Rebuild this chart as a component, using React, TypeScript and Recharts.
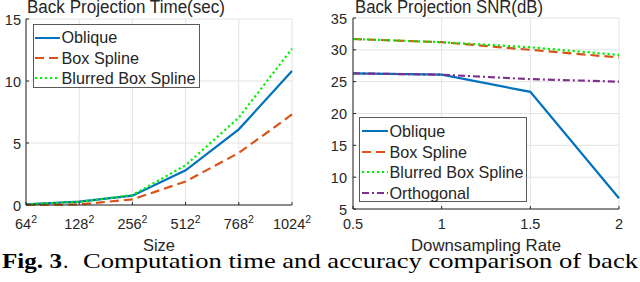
import React from 'react';
import { LineChart, Line, XAxis, YAxis, CartesianGrid, Legend } from 'recharts';

// ---- Data ----
const sizeLabels = ['64', '128', '256', '512', '768', '1024'];
const obliqueTime = [0.05, 0.27, 0.75, 2.8, 6.1, 10.8];
const boxSplineTime = [0.0, 0.05, 0.45, 1.9, 4.2, 7.3];
const blurredTime = [0.05, 0.25, 0.8, 3.2, 7.05, 12.6];
const timeTicks = [0, 5, 10, 15];

const downsampling = [0.5, 1, 1.5, 2];
const obliqueSnr = [26.3, 26.1, 23.4, 6.7];
const boxSplineSnr = [31.7, 31.2, 30.0, 28.8];
const blurredSnr = [31.7, 31.2, 30.4, 29.2];
const orthogonalSnr = [26.3, 26.1, 25.4, 25.0];
const snrTicks = [5, 10, 15, 20, 25, 30, 35];
const rateTicks = [0.5, 1, 1.5, 2];

const titleTime = 'Back Projection Time(sec)';
const titleSnr = 'Back Projection SNR(dB)';
const xLabelTime = 'Size';
const xLabelSnr = 'Downsampling Rate';
const captionBold = 'Fig. 3';
const captionDot = '.';
const captionRest = 'Computation time and accuracy comparison of back';

// ---- Styles ----
const FONT = '"Liberation Sans", Arial, Helvetica, sans-serif';
const SERIF = '"Liberation Serif", "Times New Roman", serif';
const TXT = '#262626';
const GRID = '#e3e3e3';
const TICK_LINE = { stroke: TXT, strokeWidth: 1 };

type SeriesDef = { key: string; name: string; color: string; dash?: string };
const S_OBLIQUE: SeriesDef = { key: 'oblique', name: 'Oblique', color: '#0072BD' };
const S_BOX: SeriesDef = { key: 'box', name: 'Box Spline', color: '#D95319', dash: '9 5' };
const S_BLUR: SeriesDef = { key: 'blur', name: 'Blurred Box Spline', color: '#00F000', dash: '2.2 2.8' };
const S_ORTH: SeriesDef = { key: 'orth', name: 'Orthogonal', color: '#7E2F8E', dash: '7 3 2 3' };

const timeData = sizeLabels.map((s, i) => ({
  size: s,
  oblique: obliqueTime[i],
  box: boxSplineTime[i],
  blur: blurredTime[i],
}));

const snrData = downsampling.map((d, i) => ({
  rate: d,
  oblique: obliqueSnr[i],
  box: boxSplineSnr[i],
  blur: blurredSnr[i],
  orth: orthogonalSnr[i],
}));

const SizeTick = (props: any) => {
  const { x, y, payload } = props;
  return (
    <text x={x} y={y + 24} textAnchor="middle" fill={TXT} fontFamily={FONT} fontSize={14.5}>
      <tspan>{payload.value}</tspan>
      <tspan dy={-6} fontSize={10.5}>2</tspan>
    </text>
  );
};

const XNumTick = (props: any) => {
  const { x, y, payload } = props;
  return (
    <text x={x} y={y + 20} textAnchor="middle" fill={TXT} fontFamily={FONT} fontSize={14.5}>
      {payload.value}
    </text>
  );
};

const YTick = (props: any) => {
  const { x, y, payload } = props;
  return (
    <text x={x} y={y + 5.5} textAnchor="end" fill={TXT} fontFamily={FONT} fontSize={14.5}>
      {payload.value}
    </text>
  );
};

const LegendBox = ({ items, rowH, padTop, sampleLeft, sampleW, width, height }: any) => (
  <div
    style={{
      boxSizing: 'border-box',
      width,
      height,
      border: '1px solid #5a5a5a',
      background: '#fff',
      paddingTop: padTop,
      fontFamily: FONT,
      fontSize: 16.2,
      color: TXT,
    }}
  >
    {items.map((it: SeriesDef) => (
      <div key={it.key} style={{ display: 'flex', alignItems: 'center', height: rowH, lineHeight: rowH + 'px' }}>
        <svg width={sampleLeft + sampleW + 1.5} height={6} style={{ flex: 'none' }}>
          <line
            x1={sampleLeft}
            x2={sampleLeft + sampleW}
            y1={3}
            y2={3}
            stroke={it.color}
            strokeWidth={2}
            strokeDasharray={it.dash}
          />
        </svg>
        <span style={{ whiteSpace: 'nowrap' }}>{it.name}</span>
      </div>
    ))}
  </div>
);

const renderLines = (series: SeriesDef[]) =>
  series.map((s) => (
    <Line
      key={s.key}
      type="linear"
      dataKey={s.key}
      name={s.name}
      stroke={s.color}
      strokeWidth={2.2}
      strokeDasharray={s.dash}
      dot={false}
      activeDot={false}
      isAnimationActive={false}
    />
  ));

export default function App() {
  const timeSeries = [S_OBLIQUE, S_BOX, S_BLUR];
  const snrSeries = [S_OBLIQUE, S_BOX, S_BLUR, S_ORTH];
  return (
    <div style={{ position: 'absolute', left: 0, top: 0, width: 640, height: 282, background: '#fff', overflow: 'hidden' }}>
      <div style={{ position: 'absolute', left: 0, top: 0 }}>
        <LineChart width={320} height={282} data={timeData} margin={{ top: 19, right: 28, bottom: 0, left: 0 }}>
          <CartesianGrid stroke={GRID} strokeWidth={1} />
          <XAxis
            dataKey="size"
            type="category"
            height={77}
            tickSize={-3}
            tickMargin={3}
            tick={<SizeTick />}
            interval={0}
            axisLine={{ stroke: TXT }}
            tickLine={TICK_LINE}
          />
          <XAxis xAxisId="top" dataKey="size" orientation="top" height={0} tick={false} tickSize={-3} interval={0} tickLine={TICK_LINE} axisLine={{ stroke: TXT }} />
          <YAxis
            domain={[0, 15]}
            ticks={timeTicks}
            width={26}
            tickSize={-3}
            tickMargin={8}
            tick={<YTick />}
            axisLine={{ stroke: TXT }}
            tickLine={TICK_LINE}
            interval={0}
          />
          <YAxis yAxisId="right" orientation="right" domain={[0, 15]} ticks={timeTicks} interval={0} width={0} tick={false} tickSize={-3} tickLine={TICK_LINE} axisLine={{ stroke: TXT }} />
          {renderLines(timeSeries)}
          <Legend
            layout="vertical"
            align="center"
            verticalAlign="middle"
            wrapperStyle={{ position: 'absolute', left: 33, top: 24, width: 167, height: 64 }}
            content={() => (
              <LegendBox items={timeSeries} rowH={20.3} padTop={2.4} sampleLeft={1} sampleW={25} width={167} height={64} />
            )}
          />
        </LineChart>
      </div>
      <div style={{ position: 'absolute', left: 320, top: 0 }}>
        <LineChart width={320} height={282} data={snrData} margin={{ top: 18, right: 21, bottom: 0, left: 0 }}>
          <CartesianGrid stroke={GRID} strokeWidth={1} />
          <XAxis
            dataKey="rate"
            type="number"
            domain={[0.5, 2]}
            ticks={rateTicks}
            height={73}
            tickSize={-3}
            tickMargin={3}
            tick={<XNumTick />}
            interval={0}
            axisLine={{ stroke: TXT }}
            tickLine={TICK_LINE}
          />
          <XAxis xAxisId="top" dataKey="rate" type="number" domain={[0.5, 2]} ticks={rateTicks} interval={0} orientation="top" height={0} tick={false} tickSize={-3} tickLine={TICK_LINE} axisLine={{ stroke: TXT }} />
          <YAxis
            domain={[5, 35]}
            ticks={snrTicks}
            width={33}
            tickSize={-3}
            tickMargin={9}
            tick={<YTick />}
            axisLine={{ stroke: TXT }}
            tickLine={TICK_LINE}
            interval={0}
          />
          <YAxis yAxisId="right" orientation="right" domain={[5, 35]} ticks={snrTicks} interval={0} width={0} tick={false} tickSize={-3} tickLine={TICK_LINE} axisLine={{ stroke: TXT }} />
          {renderLines(snrSeries)}
          <Legend
            layout="vertical"
            align="center"
            verticalAlign="middle"
            wrapperStyle={{ position: 'absolute', left: 39, top: 117, width: 168, height: 85 }}
            content={() => (
              <LegendBox items={snrSeries} rowH={20.5} padTop={3} sampleLeft={2} sampleW={26} width={168} height={85} />
            )}
          />
        </LineChart>
      </div>
      <svg width={640} height={282} style={{ position: 'absolute', left: 0, top: 0, pointerEvents: 'none' }}>
        <g fontFamily={FONT} fill={TXT}>
          <text x={27} y={13} fontSize={17.5} textLength={198} lengthAdjust="spacingAndGlyphs">{titleTime}</text>
          <text x={355} y={13} fontSize={17.5} textLength={188} lengthAdjust="spacingAndGlyphs">{titleSnr}</text>
          <text x={143} y={250.5} fontSize={16.5} textLength={32} lengthAdjust="spacingAndGlyphs">{xLabelTime}</text>
          <text x={411} y={250.5} fontSize={16.5} textLength={150} lengthAdjust="spacingAndGlyphs">{xLabelSnr}</text>
        </g>
        <g fontFamily={SERIF} fontSize={22} fill="#000">
          <text x={2} y={267.5} fontWeight="bold" textLength={60} lengthAdjust="spacingAndGlyphs">{captionBold}</text>
          <text x={63} y={267.5}>{captionDot}</text>
          <text x={83} y={267.5} textLength={555} lengthAdjust="spacingAndGlyphs">{captionRest}</text>
        </g>
      </svg>
    </div>
  );
}
